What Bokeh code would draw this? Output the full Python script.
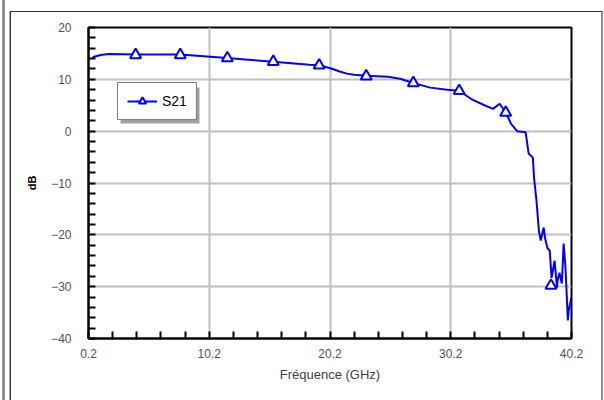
from bokeh.plotting import figure
from bokeh.models import FixedTicker, Legend, LegendItem, Range1d, InlineStyleSheet, BoxAnnotation
from bokeh.embed import file_html
from bokeh.resources import INLINE

# S21 trace (GHz, dB)
freq = [0.5, 0.6, 1.2, 1.9, 4.1, 7.8, 10.0, 11.7, 13.4, 15.5, 17.5, 18.5, 19.3, 20.3, 21.0,
        21.6, 22.2, 23.2, 24.1, 25.0, 26.0, 27.1, 28.5, 29.9, 30.9, 31.9, 32.9, 33.7, 34.25,
        34.75, 35.2, 35.7, 36.4, 36.65, 37.0, 37.1, 37.3, 37.5, 37.65, 37.9, 38.0, 38.2, 38.4,
        38.55, 38.7, 38.8, 39.0, 39.05, 39.2, 39.4, 39.55, 39.7, 39.9, 39.97, 40.2]
db = [13.9, 14.3, 14.7, 14.9, 14.8, 14.8, 14.4, 14.1, 13.8, 13.4, 13.0, 12.8, 12.7, 12.1, 11.5,
      11.1, 10.9, 10.7, 10.6, 10.5, 10.1, 9.3, 8.4, 8.0, 7.8, 6.2, 5.1, 4.3, 5.3,
      3.6, 1.4, 0.0, -0.2, -4.3, -5.1, -9.0, -13.4, -19.2, -21.1, -18.6, -20.5, -22.5, -23.1,
      -28.3, -26.3, -25.0, -30.2, -28.8, -27.3, -29.4, -21.7, -26.3, -36.5, -34.6, -32.0]

# marker points on the trace
mk_freq = [4.1, 7.8, 11.7, 15.5, 19.3, 23.2, 27.1, 30.9, 34.75, 38.5]
mk_db = [14.7, 14.7, 14.1, 13.4, 12.7, 10.6, 9.3, 7.8, 3.6, -29.8]

x_major = [0.2, 10.2, 20.2, 30.2, 40.2]
x_minor = [0.2 + 2 * i for i in range(21)]
y_major = [-40, -30, -20, -10, 0, 10, 20]
y_minor = [-40 + 2 * i for i in range(31)]

p = figure(width=604, height=400, output_backend="svg", toolbar_location=None,
           x_range=Range1d(0.2, 40.2), y_range=Range1d(-40, 20),
           min_border_left=88, min_border_right=33, min_border_top=27, min_border_bottom=62)

p.background_fill_color = "white"
p.border_fill_color = "white"
p.outline_line_color = "black"
p.outline_line_width = 2

p.xaxis.ticker = FixedTicker(ticks=x_major, minor_ticks=x_minor)
p.yaxis.ticker = FixedTicker(ticks=y_major, minor_ticks=y_minor)

for ax in (p.xaxis, p.yaxis):
    ax.axis_line_color = "black"
    ax.axis_line_width = 2
    ax.major_tick_line_color = None
    ax.major_tick_in = 0
    ax.major_tick_out = 0
    ax.minor_tick_line_color = "black"
    ax.minor_tick_line_width = 2
    ax.minor_tick_in = 7
    ax.minor_tick_out = 0
    ax.major_label_text_font = "Liberation Sans"
    ax.major_label_text_font_size = "12px"
    ax.major_label_text_color = "#505050"

p.xaxis.major_label_overrides = {v: f"{v:.1f}" for v in x_major}
p.xaxis.major_label_standoff = 10
p.yaxis.major_label_standoff = 17

p.xaxis.axis_label = "Fréquence (GHz)"
p.xaxis.axis_label_text_font = "Liberation Sans"
p.xaxis.axis_label_text_font_size = "13px"
p.xaxis.axis_label_text_font_style = "normal"
p.xaxis.axis_label_text_color = "#404040"
p.xaxis.axis_label_standoff = 6

p.yaxis.axis_label = "dB"
p.yaxis.axis_label_text_font = "Liberation Sans"
p.yaxis.axis_label_text_font_size = "11px"
p.yaxis.axis_label_text_font_style = "bold"
p.yaxis.axis_label_text_color = "black"
p.yaxis.axis_label_standoff = 10

p.xgrid.ticker = FixedTicker(ticks=x_major)
p.ygrid.ticker = FixedTicker(ticks=y_major)
p.grid.grid_line_color = "#c0c0c0"
p.grid.grid_line_width = 2

ln = p.line(freq, db, line_color="#0000ff", line_width=2)
mk = p.scatter(mk_freq, mk_db, marker="triangle", size=11, line_color="#0000ff",
               line_width=2, fill_color="white")

# legend drop shadow (frame-relative screen units, y measured upward from frame bottom)
shadow = BoxAnnotation(left=32, right=111, top=251, bottom=215,
                       left_units="screen", right_units="screen",
                       top_units="screen", bottom_units="screen",
                       fill_color="#a0a0a0", fill_alpha=1, line_color=None)
p.add_layout(shadow)

legend = Legend(items=[LegendItem(label="S21", renderers=[ln, mk])],
                location=(29, 218), orientation="vertical",
                border_line_color="black", border_line_width=1,
                background_fill_color="white", background_fill_alpha=1,
                label_text_font="Liberation Sans", label_text_font_size="14px",
                label_text_color="black", glyph_width=30, glyph_height=18,
                padding=9, margin=0, spacing=0, label_standoff=5)
p.add_layout(legend, "center")

css = """
:host { position: relative; }
:host::before {
  content: ""; position: absolute; left: 2px; top: 0px; width: 3px; height: 100%;
  background: #909090; pointer-events: none; z-index: 5;
}
:host::after {
  content: ""; position: absolute; left: 10px; top: 11px; width: 590px; height: 400px;
  border-top: 1px solid #303030; border-left: 1px solid #303030;
  border-right: 2px solid #909090; box-shadow: -1px 0 0 #b0b0b0;
  pointer-events: none; z-index: 5;
}
"""
p.stylesheets = [InlineStyleSheet(css=css)]

open("out.html", "w").write(file_html(p, INLINE))
